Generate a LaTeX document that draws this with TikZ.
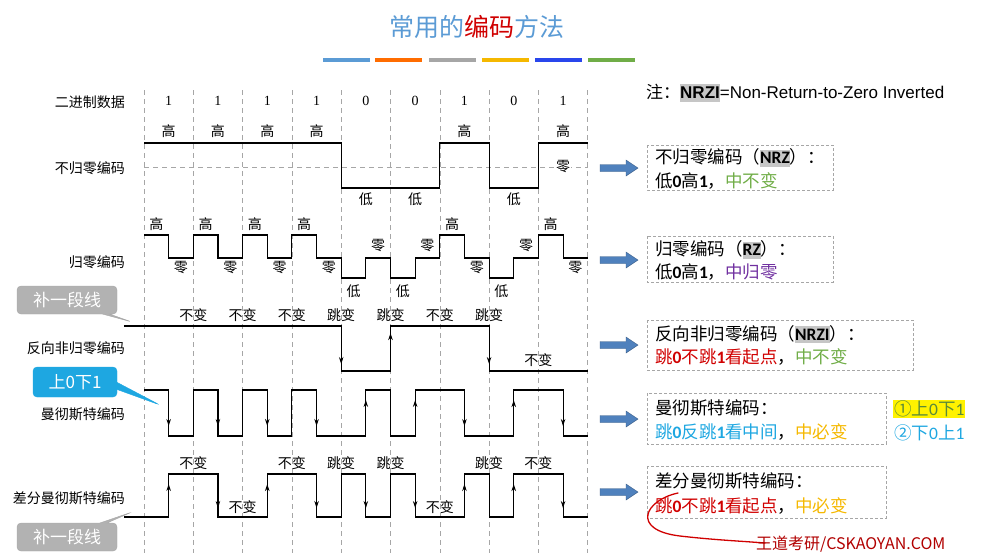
\documentclass[tikz,border=0pt]{standalone}
\usepackage{fontspec}
\setmainfont{Noto Sans CJK SC}
\newfontfamily\serifnum{Liberation Serif}
\newfontfamily\carl{Carlito}
\newfontfamily\arialf{Liberation Sans}
\usetikzlibrary{arrows.meta,shapes.callouts}
\definecolor{tblue}{HTML}{5B9BD5}
\definecolor{tred}{HTML}{D00000}
\definecolor{tgreen}{HTML}{70AD47}
\definecolor{tpurple}{HTML}{7030A0}
\definecolor{tcyan}{HTML}{1EA7E1}
\definecolor{torange}{HTML}{F5B800}
\definecolor{arrblue}{HTML}{4F81BD}
\newcommand\hlb[1]{{\carl\colorbox{gray!45}{\hspace{-3pt}\textbf{#1}\hspace{-3pt}}}}
\newcommand\bd[1]{{\carl\textbf{#1}}}
\begin{document}
\begin{tikzpicture}[x=1pt,y=-1pt,
  lab/.style={font=\fontsize{14}{16}\selectfont, inner sep=1pt},
  rlab/.style={font=\fontsize{14}{16}\selectfont, anchor=east, inner sep=0pt},
  sig/.style={line width=1.1pt, line join=miter},
  arr/.style={line width=1.1pt, -{Stealth[length=7pt,width=4.5pt]}},
  grid/.style={gray!70, line width=0.6pt, dash pattern=on 5pt off 4pt},
  box/.style={draw=gray!70, densely dashed, line width=0.7pt},
  btxt/.style={font=\fontsize{17.5}{20}\selectfont, anchor=west, inner sep=0pt},
  barrow/.style={fill=arrblue, draw=arrblue!70!black, line width=0.4pt},
  call/.style={rectangle callout, rounded corners=4pt, text=white, font=\fontsize{17}{19}\selectfont, minimum width=100pt, minimum height=28pt, inner sep=0pt}
]
\useasboundingbox (0,0) rectangle (984,558);
% title
\node (title) at (477,27) {\fontsize{25}{28}\selectfont\color{tblue}常用的\textcolor{tred}{编码}方法};
\foreach \xs/\c in {323/tblue,375/orange!85!red,429/gray!70,482/torange,535/blue!55!tblue,588/tgreen}
  \fill[\c] (\xs,58) rectangle ++(47,4);
\node[anchor=west, inner sep=0pt] (note) at (646,93) {\fontsize{17}{19}\selectfont 注：{\arialf\colorbox{gray!45}{\hspace{-3pt}\textbf{NRZI}\hspace{-3pt}}=Non-Return-to-Zero Inverted}};
% left labels
\node[rlab] (l1) at (125,102) {二进制数据};
\node[rlab] (l2) at (125,168) {不归零编码};
\node[rlab] (l3) at (125,262) {归零编码};
\node[rlab] (l4) at (125,348) {反向非归零编码};
\node[rlab] (l5) at (125,414) {曼彻斯特编码};
\node[rlab] (l6) at (125,498) {差分曼彻斯特编码};
% waveforms
\begin{scope}[shift={(144pt,0pt)}, x=49.3pt, y=-1pt]
\foreach \i in {0,...,9} \draw[grid] (\i,90) -- (\i,553);
\draw[grid] (0,167) -- (9,167);
\foreach \b [count=\k from 0] in {1,1,1,1,0,0,1,0,1}
  \node[lab] at (\k+0.5,101) {\serifnum\b};
\foreach \k in {0,1,2,3,6,8} {
  \node[lab] at (\k+0.5,131) {高};
  \node[lab] at (\k+0.25,224) {高};
  \node[lab] at (\k+0.75,268) {零};}
\foreach \k in {4,5,7} {
  \node[lab] at (\k+0.5,199) {低};
  \node[lab] at (\k+0.25,291) {低};
  \node[lab] at (\k+0.75,246) {零};}
\node[lab, fill=white] at (8.5,167) {零};
% NRZ
\draw[sig] (0,143)--(4,143)--(4,188)--(6,188)--(6,143)--(7,143)--(7,188)--(8,188)--(8,143)--(9,143);
% RZ
\draw[sig] (0,235)--(.5,235)--(.5,258)--(1,258)--(1,235)--(1.5,235)--(1.5,258)--(2,258)--(2,235)--(2.5,235)--(2.5,258)--(3,258)--(3,235)--(3.5,235)--(3.5,258)--(4,258)--(4,278)--(4.5,278)--(4.5,258)--(5,258)--(5,278)--(5.5,278)--(5.5,258)--(6,258)--(6,235)--(6.5,235)--(6.5,258)--(7,258)--(7,278)--(7.5,278)--(7.5,258)--(8,258)--(8,235)--(8.5,235)--(8.5,258)--(9,258);
% NRZI
\draw[sig] (-0.41,326)--(4,326)--(4,371)--(5,371)--(5,326)--(7,326)--(7,371)--(9,371);
\draw[arr] (4,326)--(4,364);
\draw[arr] (5,371)--(5,333);
\draw[arr] (7,326)--(7,364);
\foreach \k/\t in {1/不变,2/不变,3/不变,4/跳变,5/跳变,6/不变,7/跳变}
  \node[lab] at (\k,315) {\t};
\node[lab] at (8,360) {不变};
% Manchester
\draw[sig] (0,390)--(.5,390)--(.5,436)--(1,436)--(1,390)--(1.5,390)--(1.5,436)--(2,436)--(2,390)--(2.5,390)--(2.5,436)--(3,436)--(3,390)--(3.5,390)--(3.5,436)--(4.5,436)--(4.5,390)--(5,390)--(5,436)--(5.5,436)--(5.5,390)--(6.5,390)--(6.5,436)--(7.5,436)--(7.5,390)--(8.5,390)--(8.5,436)--(9,436);
\foreach \m in {0.5,1.5,2.5,3.5,6.5,8.5} \draw[arr] (\m,390)--(\m,426);
\foreach \m in {4.5,5.5,7.5} \draw[arr] (\m,436)--(\m,400);
% Differential Manchester
\draw[sig] (-0.41,517)--(0.5,517)--(.5,474)--(1.5,474)--(1.5,517)--(2.5,517)--(2.5,474)--(3.5,474)--(3.5,517)--(4,517)--(4,474)--(4.5,474)--(4.5,517)--(5,517)--(5,474)--(5.5,474)--(5.5,517)--(6.5,517)--(6.5,474)--(7,474)--(7,517)--(7.5,517)--(7.5,474)--(8.5,474)--(8.5,517)--(9,517);
\foreach \m in {0.5,2.5,6.5,7.5} \draw[arr] (\m,517)--(\m,484);
\foreach \m in {1.5,3.5,4.5,5.5,8.5} \draw[arr] (\m,474)--(\m,508);
\foreach \k/\t in {1/不变,3/不变,4/跳变,5/跳变,7/跳变,8/不变}
  \node[lab] at (\k,463) {\t};
\foreach \k in {2,6} \node[lab] at (\k,507) {不变};
\end{scope}
% callouts
\node[call, fill=gray!60, draw=gray!70, callout absolute pointer={(132,322)}] (c1) at (67,300) {补一段线};
\node[call, fill=gray!60, draw=gray!70, callout absolute pointer={(132,512)}] (c2) at (67,537) {补一段线};
\node[call, fill=tcyan, draw=tcyan, minimum width=84pt, minimum height=30pt, callout absolute pointer={(160,405)}] (c3) at (75,382) {上0下1};
% right boxes
\draw[box] (647,145) rectangle (833,190);
\node[btxt] (t1) at (655,158) {不归零编码（\hlb{NRZ}）：};
\node[btxt] (t1b) at (655,181) {低\bd{0}高\bd{1}，\textcolor{tgreen}{中不变}};
\draw[box] (647,236) rectangle (833,282);
\node[btxt] (t2) at (655,250) {归零编码（\hlb{RZ}）：};
\node[btxt] (t2b) at (655,272) {低\bd{0}高\bd{1}，\textcolor{tpurple}{中归零}};
\draw[box] (647,320) rectangle (913,370);
\node[btxt] (t3) at (655,334) {反向非归零编码（\hlb{NRZI}）：};
\node[btxt] (t3b) at (655,357) {\textcolor{tred}{跳\bd{0}不跳\bd{1}看起点}，\textcolor{tgreen}{中不变}};
\draw[box] (647,393) rectangle (886,444);
\node[btxt] (t4) at (655,408) {曼彻斯特编码：};
\node[btxt] (t4b) at (655,432) {\textcolor{tcyan}{跳\bd{0}反跳\bd{1}看中间}，\textcolor{torange}{中必变}};
\draw[box] (647,466) rectangle (886,518);
\node[btxt] (t5) at (655,481) {差分曼彻斯特编码：};
\node[btxt] (t5b) at (655,506) {\textcolor{tred}{跳\bd{0}不跳\bd{1}看起点}，\textcolor{torange}{中必变}};
\node[btxt, fill=yellow, inner sep=1pt] (s1) at (893,409) {\textcolor{tgreen!80!black}{①上{\carl 0}下{\carl 1}}};
\node[btxt] (s2) at (894,433) {\textcolor{tcyan}{②下{\carl 0}上{\carl 1}}};
% blue arrows
\foreach \yy in {168,260,345,419,492}
  \draw[barrow] (600,\yy-3.5) -- (626,\yy-3.5) -- (626,\yy-8) -- (638,\yy) -- (626,\yy+8) -- (626,\yy+3.5) -- (600,\yy+3.5) -- cycle;
% red hand curve + watermark
\draw[tred, line width=1.3pt, line cap=round] (678,493) .. controls (645,500) and (630,530) .. (680,536) .. controls (715,540) and (740,541) .. (765,543);
\node[anchor=west, inner sep=0pt, text=tred!85!black, font=\fontsize{16}{18}\selectfont] (wm) at (756,544) {王道考研/CSKAOYAN.COM};
\end{tikzpicture}
\end{document}
